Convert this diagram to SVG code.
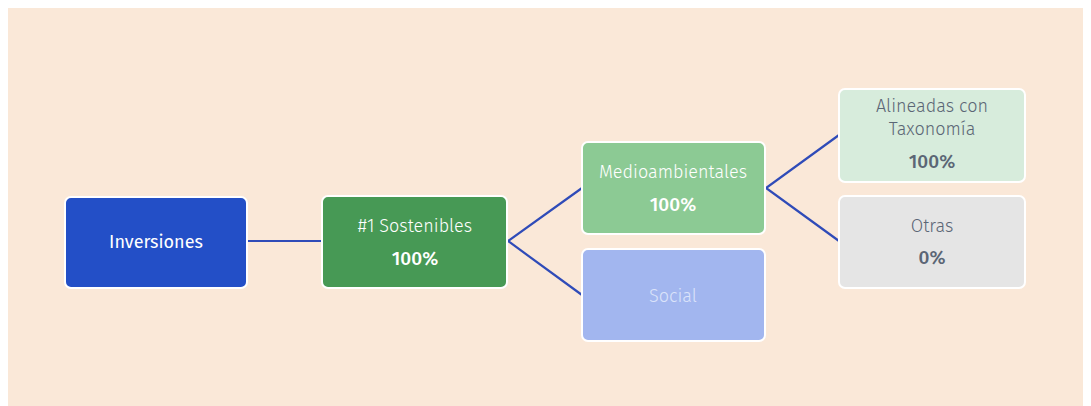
<svg xmlns="http://www.w3.org/2000/svg" width="1091" height="406" viewBox="0 0 1091 406">
<style>
.box{stroke:#ffffff;stroke-width:2}
.t{font-family:"Fira Sans","Open Sans","Liberation Sans",sans-serif;font-size:18px;text-anchor:middle}
.b{font-weight:500;font-size:19px}
.w{fill:#ffffff}
.g{fill:#5b6675}
.c{stroke:#2f4bb8;stroke-width:2.2;fill:none}
</style>
<rect x="0" y="0" width="1091" height="406" fill="#ffffff"/>
<rect x="8" y="8" width="1075" height="398" fill="#fae8d8"/>
<g id="connectors">
<line class="c" x1="247" y1="241" x2="322" y2="241"/>
<polyline class="c" points="582,188 508,241 582,295"/>
<polyline class="c" points="839,135 766,188 839,241"/>
</g>
<g id="inversiones">
<rect class="box" x="65" y="197" width="182" height="91" rx="6" fill="#234fc7"/>
<text class="t w" x="156" y="248">Inversiones</text>
</g>
<g id="sostenibles">
<rect class="box" x="322" y="196" width="185" height="92" rx="6" fill="#479955"/>
<text class="t w" x="415" y="232" font-weight="300">#1 Sostenibles</text>
<text class="t w b" x="415" y="265">100%</text>
</g>
<g id="medioambientales">
<rect class="box" x="582" y="142" width="183" height="92" rx="6" fill="#8cca94"/>
<text class="t w" x="673" y="178" font-weight="300">Medioambientales</text>
<text class="t w b" x="673" y="211">100%</text>
</g>
<g id="social">
<rect class="box" x="582" y="249" width="183" height="92" rx="6" fill="#a2b6ef"/>
<text class="t" x="673" y="302" fill="#dbe3fa" font-weight="300">Social</text>
</g>
<g id="alineadas">
<rect class="box" x="839" y="89" width="186" height="93" rx="6" fill="#d7ecdc"/>
<text class="t g" x="932" y="112" font-weight="300">Alineadas con</text>
<text class="t g" x="932" y="135" font-weight="300">Taxonomía</text>
<text class="t g b" x="932" y="168">100%</text>
</g>
<g id="otras">
<rect class="box" x="839" y="196" width="186" height="92" rx="6" fill="#e5e5e5"/>
<text class="t g" x="932" y="232" font-weight="300">Otras</text>
<text class="t g b" x="932" y="264">0%</text>
</g>
</svg>
